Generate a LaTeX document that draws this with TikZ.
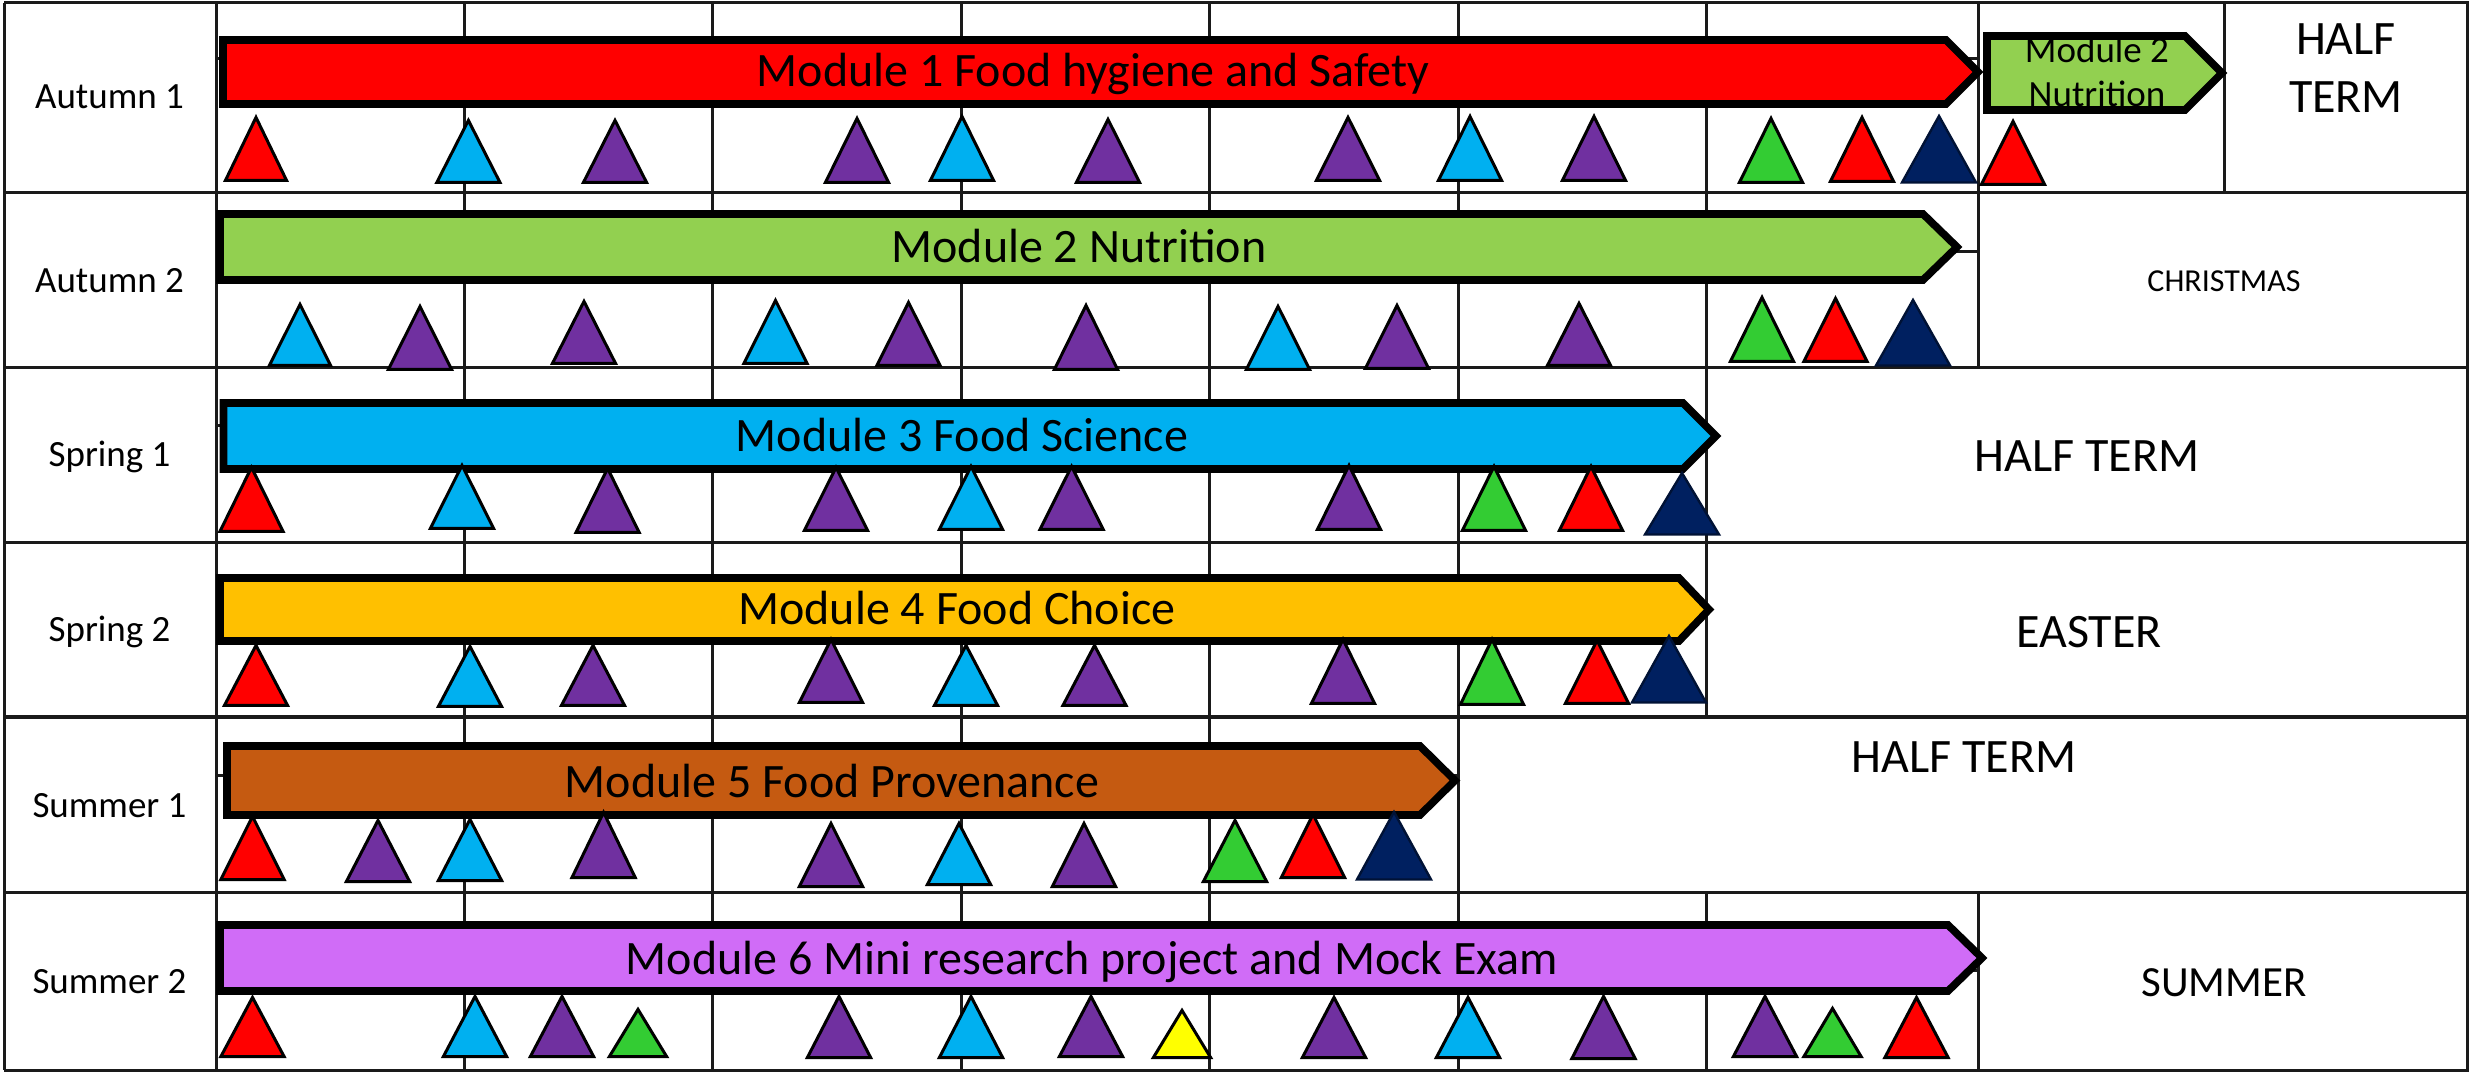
\documentclass[tikz,border=0pt]{standalone}
\usepackage{fontspec}
\setmainfont{Carlito}
\definecolor{tR}{HTML}{FF0000}
\definecolor{tB}{HTML}{00B0F0}
\definecolor{tP}{HTML}{7030A0}
\definecolor{tG}{HTML}{33CC33}
\definecolor{tN}{HTML}{002060}
\definecolor{tY}{HTML}{FFFF00}
\definecolor{mG}{HTML}{92D050}
\definecolor{mO}{HTML}{FFC000}
\definecolor{mC}{HTML}{C55A11}
\definecolor{mV}{HTML}{D06CF7}
\definecolor{gridc}{HTML}{1A1A1A}
\tikzset{
  gridline/.style={draw=gridc,line width=1.5pt},
  modarrow/.style={draw=black,line width=3.8pt,miter limit=10,line join=miter},
  tri/.style={draw=black,line width=1.5pt,miter limit=10,line join=miter},
  navytri/.style={draw=tN!55!black,fill=tN,line width=1.2pt,line join=miter,miter limit=10},
  modlabel/.style={anchor=base,inner sep=0pt,font=\fontsize{24}{29}\selectfont},
  termlabel/.style={anchor=base,inner sep=0pt,font=\fontsize{18.5}{22}\selectfont},
  breaklabel/.style={anchor=base,inner sep=0pt,font=\fontsize{24}{29}\selectfont},
}
\begin{document}
\begin{tikzpicture}[x=0.5pt,y=-0.5pt]
\useasboundingbox (0,0) rectangle (2469,1074);
\fill[white] (0,0) rectangle (2469,1074);
% table grid
\foreach \y in {3,193,368,543,717,892,1070} \draw[gridline] (4,\y) -- (2469,\y);
\draw[gridline] (4,3) -- (4,1070);
\draw[gridline] (2467,3) -- (2467,1070);
\draw[gridline] (216,3) -- (216,1070);
\foreach \x/\a/\b in {464/3/1070,712/3/1070,961/3/1070,1209/3/1070,1458/3/1070,1706/3/717,1706/892/1070,1978/3/368,1978/892/1070,2224/3/193}
  \draw[gridline] (\x,\a) -- (\x,\b);
\foreach \y/\e in {59/1978,252/1978,426/1706,775/1458,970/1978}
  \draw[gridline] (216,\y) -- (\e,\y);
% module arrows: left, top, bottom, shoulder, tip, colour
\foreach \l/\t/\b/\s/\p/\c in {
  223/40/104/1946/1978/tR,
  1987/36/110/2185/2222/mG,
  220/214/280/1923/1957/mG,
  223.5/403/469/1683/1716/tB,
  220/578/641/1679/1709/mO,
  227/746/815/1420/1455/mC,
  220/925/991/1948/1982/mV}
  \draw[modarrow,fill=\c] (\l,\t) -- (\s,\t) -- (\p,{(\t+\b)/2}) -- (\s,\b) -- (\l,\b) -- cycle;
% triangles: colour, centre x, apex y, base y, half width (outer extents)
\foreach \c/\x/\a/\b/\h in {
  tR/256/114/182/33, tB/468.4/117/184/34, tP/615/117/184/34, tP/857/115/184/34, tB/962/113/182/34, tP/1108/116/184/34, tP/1348/114/182/34, tB/1470/113/182/34, tP/1594/113/182/34, tG/1771/115/184/34, tR/1862/114/183/34, tR/2013/118/186/34,
  tB/300/301/367/33, tP/420/303/371/34, tP/584/298/365/34, tB/775.5/297/365/34, tP/908.5/299/367/34, tP/1086/302/371/34, tB/1278/303/371/34, tP/1397/302/370/34, tP/1579/300/367/34, tG/1762/294/363/34, tR/1835.5/295/363/34,
  tR/251.5/464/533/34, tB/462/462/530/34, tP/607.6/465/534/34, tP/836/464/532/34, tB/971/463/531/34, tP/1071.6/463/531/34, tP/1349/462/531/34, tG/1494/463/532/34, tR/1591/463/532/34,
  tR/256/642/707/34, tB/470/643/708/34, tP/593/642/707/34, tP/831/636/704/34, tB/966/642/707/34, tP/1094.5/642/707/34, tP/1343/636/705/34, tG/1492/636/706/34, tR/1597/637/705/34,
  tR/252.5/813/881/34, tP/378/817/883/34, tB/470/816/882/34, tP/603.6/809/879/34, tP/831/820/888/34, tB/959/820/886/34, tP/1084/820/888/34, tG/1235/817/883/34, tR/1313/811/879/34,
  tR/252.5/994/1058/34, tB/475/993/1058/34, tP/562/993/1058/34, tG/638/1006/1058/31, tP/839/993/1059/34, tB/971/993/1059/34, tP/1091/993/1058/34, tY/1182/1007/1059/31, tP/1334/994/1059/34, tB/1468/994/1059/34, tP/1603.5/993/1060/34, tP/1765/993/1058/34, tG/1832.5/1005/1058/31, tR/1916.5/994/1059/34}
  \draw[tri,fill=\c] ({\x-\h+2.4},{\b-1.5}) -- (\x,{\a+3.4}) -- ({\x+\h-2.4},{\b-1.5}) -- cycle;
\foreach \x/\a/\b in {1939/113/184,1913/297/367,1682/470/536,1669/633/704,1394/809/881}
  \draw[navytri] ({\x-37},{\b-1.5}) -- (\x,{\a+3}) -- ({\x+37},{\b-1.5}) -- cycle;
% texts
\node[modlabel] (m1) at (1093,87) {Module 1 Food hygiene and Safety};
\node[modlabel] (m2) at (1079,263) {Module 2 Nutrition};
\node[modlabel] (m3) at (962,452) {Module 3 Food Science};
\node[modlabel] (m4) at (957,625) {Module 4 Food Choice};
\node[modlabel] (m5) at (832,797) {Module 5 Food Provenance};
\node[modlabel] (m6) at (1092,974) {Module 6 Mini research project and Mock Exam};
\node[termlabel] (ma) at (2097,63) {Module 2};
\node[termlabel] (mb) at (2097,107) {Nutrition};
\node[termlabel] (t1) at (109.5,109) {Autumn 1};
\node[termlabel] (t2) at (109.5,293) {Autumn 2};
\node[termlabel] (t3) at (109.5,467) {Spring 1};
\node[termlabel] (t4) at (109.5,642) {Spring 2};
\node[termlabel] (t5) at (109.5,817) {Summer 1};
\node[termlabel] (t6) at (109.5,993) {Summer 2};
\node[breaklabel] (h1a) at (2346,55) {HALF};
\node[breaklabel] (h1b) at (2346,113) {TERM};
\node[anchor=base,inner sep=0pt,font=\fontsize{16}{19}\selectfont] (ch) at (2224,292) {CHRISTMAS};
\node[breaklabel] (h3) at (2087,472) {HALF TERM};
\node[breaklabel] (ea) at (2089,647) {EASTER};
\node[breaklabel] (h5) at (1964,772) {HALF TERM};
\node[anchor=base,inner sep=0pt,font=\fontsize{21.5}{26}\selectfont] (su) at (2224,996) {SUMMER};
\end{tikzpicture}
\end{document}
